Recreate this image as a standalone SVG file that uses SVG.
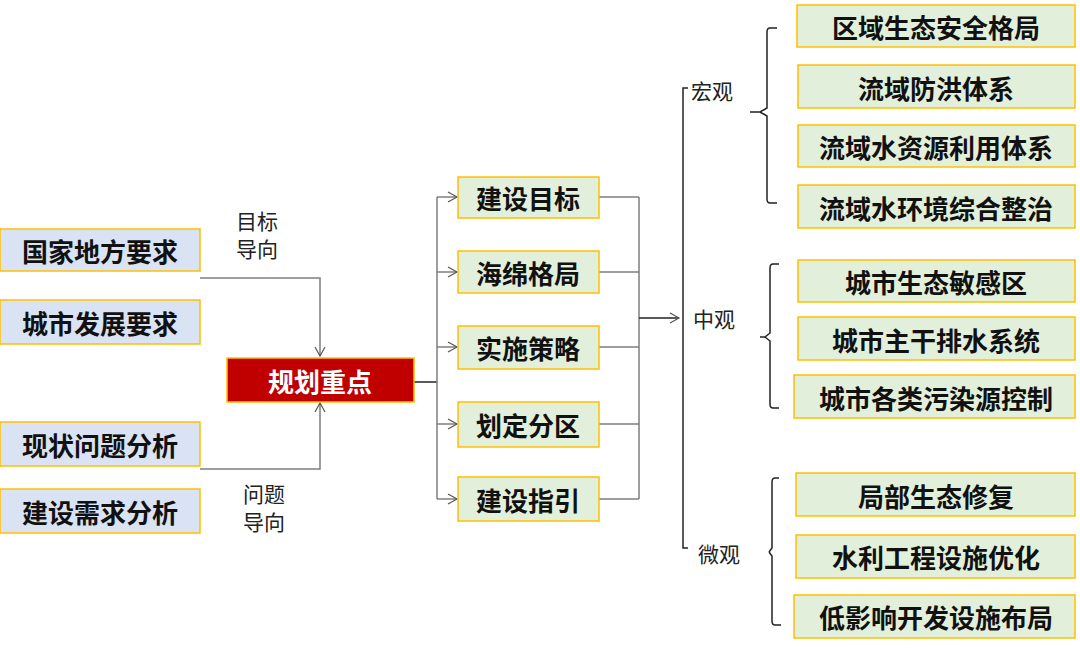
<svg xmlns="http://www.w3.org/2000/svg" width="1080" height="648" viewBox="0 0 1080 648">
<defs>
<marker id="ar" markerWidth="12" markerHeight="12" refX="10" refY="6" orient="auto" markerUnits="userSpaceOnUse"><path d="M1,1 L10,6 L1,11" fill="none" stroke="#555" stroke-width="1.2"/></marker>
</defs>
<style>
.b{stroke:#ffc000;stroke-width:1.5}
.bl{fill:#dae3f3}.gr{fill:#e2efda}
.t{font-family:"Noto Sans CJK SC",sans-serif;font-weight:bold;font-size:26px;fill:#111;text-anchor:middle;dominant-baseline:central}
.l{font-family:"Noto Sans CJK SC",sans-serif;font-size:21px;fill:#222;text-anchor:start;dominant-baseline:central}
.c{fill:none;stroke:#7f7f7f;stroke-width:1.5}
.k{fill:none;stroke:#222;stroke-width:1.5}
</style>
<g id="connectors">
<path class="c" d="M200,278 H320 V356" marker-end="url(#ar)"/>
<path class="c" d="M200,469 H320 V403" marker-end="url(#ar)"/>
<path class="k" d="M414,382 H437"/>
<path class="c" d="M437,197 V499"/>
<path class="c" d="M437,197 H457" marker-end="url(#ar)"/>
<path class="c" d="M437,272 H457" marker-end="url(#ar)"/>
<path class="c" d="M437,347 H457" marker-end="url(#ar)"/>
<path class="c" d="M437,424 H457" marker-end="url(#ar)"/>
<path class="c" d="M437,499 H457" marker-end="url(#ar)"/>
<path class="c" d="M599,197 H639 M599,272 H639 M599,347 H639 M599,424 H639 M599,499 H639 M639,197 V499"/>
<path class="k" d="M639,318 H679" marker-end="url(#ar)"/>
<path class="k" d="M688,88 H683 V548 H688"/>
<path class="k" d="M777,28 H770 Q767,28 767,32 V108 L760,112 H750 M760,112 L767,116 V199 Q767,203 770,203 H777"/>
<path class="k" d="M779,264 H773 Q770,264 770,268 V333 L765,337 H760 M765,337 L770,341 V404 Q770,408 773,408 H779"/>
<path class="k" d="M779,478 H775 Q772,478 772,482 V548 L769,552 M769,552 L772,556 V621 Q772,625 775,625 H781"/>
</g>
<g id="n1"><rect class="b bl" x="0" y="229" width="200" height="42"/><text class="t" x="100" y="250">国家地方要求</text></g>
<g id="n2"><rect class="b bl" x="0" y="300" width="200" height="44"/><text class="t" x="100" y="322">城市发展要求</text></g>
<g id="n3"><rect class="b bl" x="0" y="422" width="200" height="44"/><text class="t" x="100" y="444">现状问题分析</text></g>
<g id="n4"><rect class="b bl" x="0" y="489" width="200" height="44"/><text class="t" x="100" y="511">建设需求分析</text></g>
<g id="lab1"><text class="l" x="236" y="220">目标</text><text class="l" x="236" y="248">导向</text></g>
<g id="lab2"><text class="l" x="243" y="493">问题</text><text class="l" x="243" y="521">导向</text></g>
<g id="center"><rect x="227" y="358" width="187" height="44" fill="#c00000" stroke="#ffc000" stroke-width="1.5"/><text class="t" x="320" y="380" style="fill:#fff">规划重点</text></g>
<g id="m1"><rect class="b gr" x="458" y="177" width="141" height="41"/><text class="t" x="528" y="197">建设目标</text></g>
<g id="m2"><rect class="b gr" x="458" y="251" width="141" height="42"/><text class="t" x="528" y="272">海绵格局</text></g>
<g id="m3"><rect class="b gr" x="458" y="326" width="141" height="43"/><text class="t" x="528" y="347">实施策略</text></g>
<g id="m4"><rect class="b gr" x="458" y="402" width="141" height="45"/><text class="t" x="528" y="424">划定分区</text></g>
<g id="m5"><rect class="b gr" x="458" y="477" width="141" height="44"/><text class="t" x="528" y="499">建设指引</text></g>
<g id="s1"><text class="l" x="691" y="90">宏观</text></g>
<g id="s2"><text class="l" x="693" y="318">中观</text></g>
<g id="s3"><text class="l" x="698" y="553">微观</text></g>
<g id="r1"><rect class="b gr" x="797" y="5" width="278" height="42"/><text class="t" x="936" y="26">区域生态安全格局</text></g>
<g id="r2"><rect class="b gr" x="798" y="65" width="277" height="43"/><text class="t" x="936" y="87">流域防洪体系</text></g>
<g id="r3"><rect class="b gr" x="798" y="125" width="277" height="42"/><text class="t" x="936" y="146">流域水资源利用体系</text></g>
<g id="r4"><rect class="b gr" x="798" y="185" width="277" height="43"/><text class="t" x="936" y="207">流域水环境综合整治</text></g>
<g id="r5"><rect class="b gr" x="798" y="260" width="277" height="42"/><text class="t" x="936" y="281">城市生态敏感区</text></g>
<g id="r6"><rect class="b gr" x="798" y="317" width="277" height="43"/><text class="t" x="936" y="339">城市主干排水系统</text></g>
<g id="r7"><rect class="b gr" x="794" y="375" width="281" height="43"/><text class="t" x="936" y="397">城市各类污染源控制</text></g>
<g id="r8"><rect class="b gr" x="796" y="473" width="279" height="43"/><text class="t" x="936" y="495">局部生态修复</text></g>
<g id="r9"><rect class="b gr" x="796" y="535" width="279" height="43"/><text class="t" x="936" y="556">水利工程设施优化</text></g>
<g id="r10"><rect class="b gr" x="794" y="595" width="281" height="43"/><text class="t" x="936" y="616">低影响开发设施布局</text></g>
</svg>
